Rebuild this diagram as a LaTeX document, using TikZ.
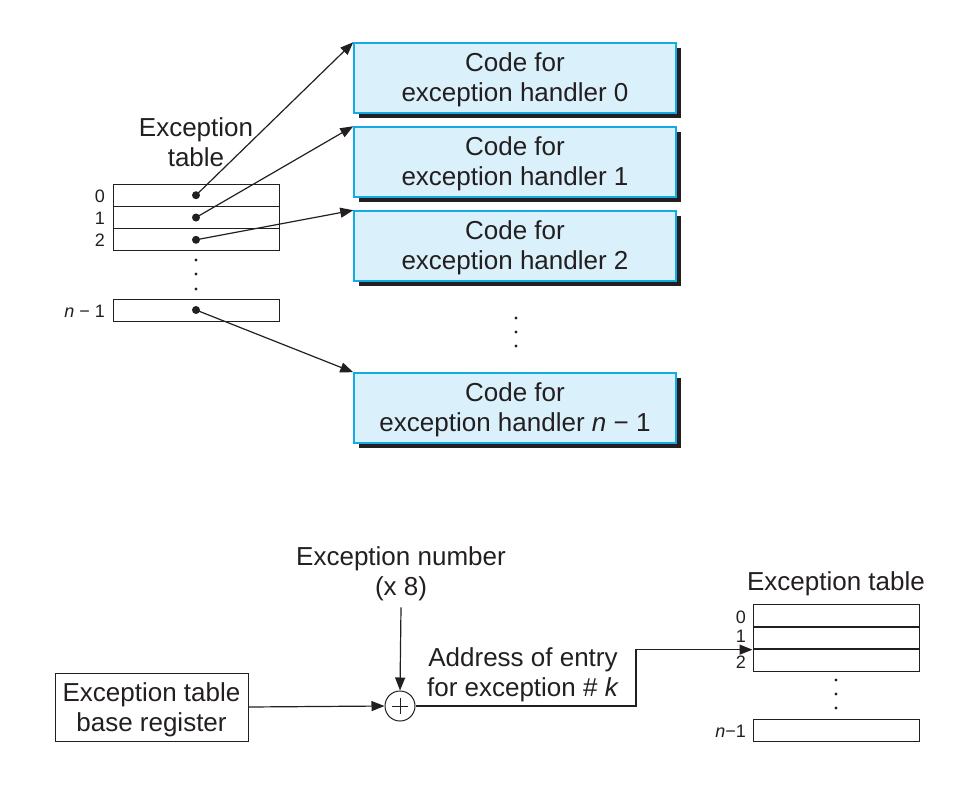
\documentclass[tikz,border=0pt]{standalone}
\usepackage{fontspec}
\setmainfont{Liberation Sans}
\usetikzlibrary{arrows.meta,shadows}

\definecolor{inkc}{RGB}{35,31,32}
\definecolor{boxfill}{RGB}{218,241,251}
\definecolor{boxedge}{RGB}{20,170,230}

\tikzset{
  word/.style={align=center, inner sep=0pt, font=\fontsize{26}{30}\selectfont},
  codebox/.style={word, draw=boxedge, line width=1.5pt, fill=boxfill, text depth=1pt,
    minimum width=322pt, minimum height=70pt,
    drop shadow={shadow xshift=5pt, shadow yshift=-5pt, opacity=1, fill=inkc}},
  basebox/.style={word, draw=inkc, line width=1pt, text depth=0pt, minimum width=193pt, minimum height=68pt},
  tblrow/.style={draw=inkc, line width=1pt, minimum width=166pt, minimum height=22.3pt, inner sep=0pt},
  idx/.style={anchor=east, inner sep=0pt, font=\fontsize{18}{20}\selectfont},
  arr/.style={-{Triangle[length=13pt,width=10pt]}, line width=1.2pt},
  plusc/.style={circle, draw=inkc, line width=1pt, minimum size=30pt, inner sep=0pt,
    path picture={\draw[line width=1pt]
      ([xshift=-8pt]path picture bounding box.center) -- ([xshift=8pt]path picture bounding box.center)
      ([yshift=-8pt]path picture bounding box.center) -- ([yshift=8pt]path picture bounding box.center);}},
}

\begin{document}
\begin{tikzpicture}[x=1pt, y=-1pt, color=inkc, text=inkc]

  %% ════ 处理程序代码框 ════
  \node[codebox] (h0) at (515,78)  {Code for\\exception handler 0};
  \node[codebox] (h1) at (515,162) {Code for\\exception handler 1};
  \node[codebox] (h2) at (515,246) {Code for\\exception handler 2};
  \node[codebox] (hn) at (515,408) {Code for\\exception handler \textit{n} − 1};

  \fill (516,318) circle (1.6);
  \fill (516,332) circle (1.6);
  \fill (516,346) circle (1.6);

  %% ════ 异常表（上）════
  \node[word] (ttl) at (196,142) {Exception\\table};
  \node[tblrow] (t0) at (196,195.2) {};
  \node[tblrow] (t1) at (196,217.5) {};
  \node[tblrow] (t2) at (196,239.8) {};
  \node[tblrow, minimum height=22pt] (tn) at (196,310) {};

  \node[idx] (l0) at (105,196) {0};
  \node[idx] (l1) at (105,218) {1};
  \node[idx] (l2) at (105,240) {2};
  \node[idx] (ln) at (105,311) {\textit{n} − 1};

  \fill (196,260) circle (1.6);
  \fill (196,274) circle (1.6);
  \fill (196,289) circle (1.6);

  \fill (t0.center) circle (4);
  \fill (t1.center) circle (4);
  \fill (t2.center) circle (4);
  \fill (tn.center) circle (4);

  \draw[arr] (t0.center) -- (h0.north west);
  \draw[arr] (t1.center) -- (h1.north west);
  \draw[arr] (t2.center) -- (h2.north west);
  \draw[arr] (tn.center) -- (hn.north west);

  %% ════ 下部：表项地址 ════
  \node[word] (enum) at (401,574) {Exception number\\(x 8)};
  \node[plusc] (plus) at (400,706) {};
  \node[basebox] (basereg) at (151.5,707) {Exception table\\base register};
  \node[word] (addr) at (523,675) {Address of entry\\for exception \# \textit{k}};
  \coordinate (bend) at (636,706);

  \node[word] (ttr) at (836,584) {Exception table};
  \node[tblrow] (r0) at (836,616) {};
  \node[tblrow] (r1) at (836,638) {};
  \node[tblrow] (r2) at (836,660) {};
  \node[tblrow] (rn) at (836,730.5) {};

  \node[idx] (m0) at (746,617) {0};
  \node[idx] (m1) at (746,636) {1};
  \node[idx] (m2) at (746,662) {2};
  \node[idx] (mn) at (746,731) {\textit{n}−1};

  \fill (836,680) circle (1.6);
  \fill (836,694) circle (1.6);
  \fill (836,708) circle (1.6);

  \draw[arr] ([yshift=-6pt]enum.south) -- (plus.north);
  \draw[arr] (basereg.east) -- (plus.west);
  \draw[arr] (plus.east) -- (bend) |- (r1.south west);

  \pgfresetboundingbox
  \path[use as bounding box] (0,0) rectangle (964,796);
\end{tikzpicture}
\end{document}
